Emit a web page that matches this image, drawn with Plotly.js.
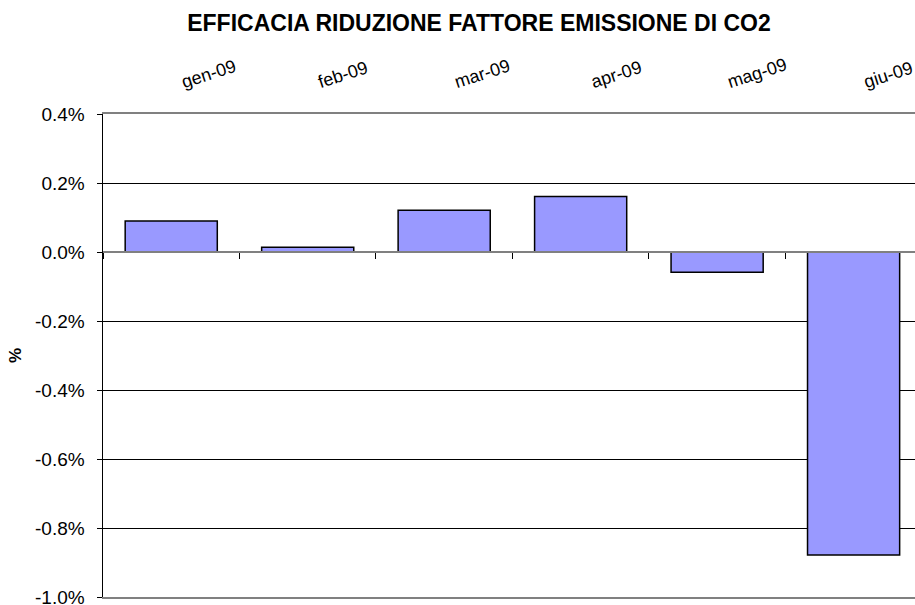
<!DOCTYPE html>
<html><head><meta charset="utf-8">
<script src="https://cdn.plot.ly/plotly-3.0.1.min.js"></script>
<style>html,body{margin:0;padding:0;background:#fff}</style>
</head><body><div id="chart" style="width:915px;height:605px"></div>
<script>
const months = ['gen-09', 'feb-09', 'mar-09', 'apr-09', 'mag-09', 'giu-09'];
const efficacia = [0.0009, 0.00014, 0.00121, 0.00161, -0.00059, -0.00878];
const yTickVals = [0.004, 0.002, 0, -0.002, -0.004, -0.006, -0.008, -0.01];
const chartTitle = 'EFFICACIA RIDUZIONE FATTORE EMISSIONE DI CO2';
const yTitle = '%';
const yRange = [-0.01, 0.004];

const FONT = 'Liberation Sans, Arial, sans-serif';
const yTickText = yTickVals.map(v => (v * 100).toFixed(1) + '%');

const bars = {
  type: 'bar', x: months, y: efficacia, xaxis: 'x', yaxis: 'y',
  width: 0.675,
  marker: {color: '#9999FF', line: {color: '#000000', width: 1.5}},
  hoverinfo: 'x+y', showlegend: false
};
const boundaryTicks = {
  type: 'bar', x: months, y: months.map(() => null), xaxis: 'x2', yaxis: 'y',
  hoverinfo: 'skip', showlegend: false
};

const zeroPos = (0 - yRange[0]) / (yRange[1] - yRange[0]);
const xRange = [-0.5, 5.45];

const layout = {
  width: 915, height: 605,
  margin: {l: 103, r: 0, t: 114, b: 8, pad: 0},
  paper_bgcolor: '#ffffff', plot_bgcolor: '#ffffff',
  font: {family: FONT, color: '#000000'},
  showlegend: false,
  title: {
    text: '<b>' + chartTitle + '</b>',
    font: {family: FONT, size: 23, color: '#000000'},
    x: 479 / 915, xanchor: 'center', xref: 'container',
    y: 1 - 23 / 605, yanchor: 'middle', yref: 'container'
  },
  xaxis: {
    type: 'category', side: 'top', range: xRange,
    showgrid: false, zeroline: false, ticks: '',
    tickangle: -18, tickfont: {family: FONT, size: 18, color: '#000'},
    showline: true, linecolor: '#808080', linewidth: 2, mirror: true,
    ticklabelstandoff: 16, ticklabelshift: 10, ticklabeloverflow: 'allow',
    fixedrange: true
  },
  xaxis2: {
    type: 'category', overlaying: 'x', anchor: 'free', position: zeroPos,
    side: 'bottom', range: xRange,
    showticklabels: false, ticks: 'outside', tickson: 'boundaries',
    ticklen: 6, tickcolor: '#000', tickwidth: 1,
    showline: true, linecolor: '#808080', linewidth: 2,
    showgrid: false, zeroline: false, fixedrange: true
  },
  yaxis: {
    range: [yRange[0] - 1e-7, yRange[1] + 1e-7],
    tickmode: 'array', tickvals: yTickVals, ticktext: yTickText,
    showgrid: true, gridcolor: '#000000', gridwidth: 1,
    zeroline: false, showline: true, linecolor: '#000000', linewidth: 1.5,
    ticks: 'outside', ticklen: 5, tickcolor: '#000', tickwidth: 1,
    ticklabelstandoff: 8, ticklabeloverflow: 'allow',
    tickfont: {family: FONT, size: 19, color: '#000'},
    title: {text: '<b>' + yTitle + '</b>', font: {family: FONT, size: 17, color: '#000'}, standoff: 9},
    automargin: false, fixedrange: true
  }
};

Plotly.newPlot('chart', [bars, boundaryTicks], layout, {displayModeBar: false, staticPlot: true});
</script>
</body></html>
